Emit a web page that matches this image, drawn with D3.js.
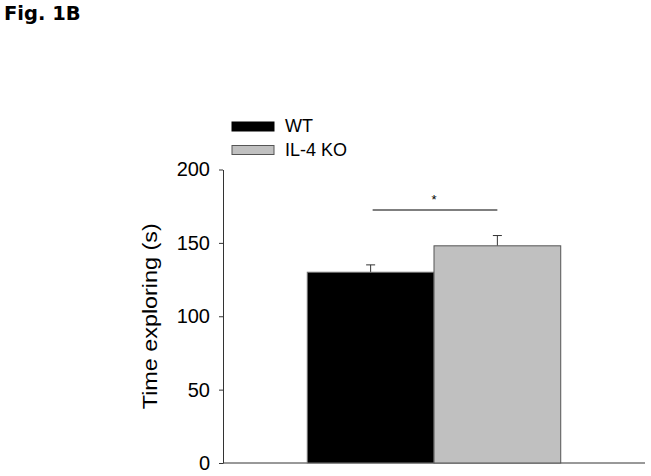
<!DOCTYPE html>
<html>
<head>
<meta charset="utf-8">
<script src="https://cdn.jsdelivr.net/npm/d3@7"></script>
<style>
  body { margin: 0; background: #fff; }
  svg { display: block; }
</style>
</head>
<body>
<div id="chart"></div>
<script>
const width = 651;
const height = 476;

const groups = ["WT", "IL-4 KO"];
const means = [130, 148];
const errors = [5, 7];
const fills = ["#000000", "#c0c0c0"];
const yTicks = [0, 50, 100, 150, 200];

let svg = d3.select("#chart").append("svg")
    .attr("width", width)
    .attr("height", height);

// figure label
svg.append("text")
    .attr("x", 4)
    .attr("y", 20)
    .style("font-family", "Verdana, 'DejaVu Sans', sans-serif")
    .style("font-weight", "bold")
    .style("font-size", "19.5px")
    .text("Fig. 1B");

let xScale = d3.scaleBand()
    .domain(groups)
    .range([223, 645])
    .paddingInner(0)
    .paddingOuter(0.665);

let yScale = d3.scaleLinear()
    .domain([0, 200])
    .range([463, 169.5]);

// y axis
let yAxis = svg.append("g")
    .attr("transform", "translate(223,0)")
    .call(d3.axisLeft(yScale).tickValues(yTicks).tickSize(4).tickPadding(9).tickSizeOuter(0));
yAxis.select(".domain").attr("stroke", "#333");
yAxis.selectAll(".tick line").attr("stroke", "#333");
yAxis.selectAll(".tick text")
    .style("font-family", "'Liberation Sans', Arial, sans-serif")
    .style("font-size", "20px")
    .attr("fill", "#000");

// x axis line
svg.append("line")
    .attr("x1", 223).attr("x2", 645)
    .attr("y1", yScale(0)).attr("y2", yScale(0))
    .attr("stroke", "#333")
    .attr("stroke-width", 1);

// y label
svg.append("text")
    .attr("transform", `translate(157, ${yScale(100)}) rotate(-90)`)
    .attr("text-anchor", "middle")
    .attr("textLength", 186)
    .attr("lengthAdjust", "spacingAndGlyphs")
    .style("font-family", "'Liberation Sans', Arial, sans-serif")
    .style("font-size", "20px")
    .text("Time exploring (s)");

// error bars (upper only)
let err = svg.append("g");
groups.forEach((g, i) => {
    let cx = xScale(g) + xScale.bandwidth() / 2;
    err.append("line")
        .attr("x1", cx).attr("x2", cx)
        .attr("y1", yScale(means[i])).attr("y2", yScale(means[i] + errors[i]))
        .attr("stroke", "#333");
    err.append("line")
        .attr("x1", cx - 4.5).attr("x2", cx + 4.5)
        .attr("y1", yScale(means[i] + errors[i])).attr("y2", yScale(means[i] + errors[i]))
        .attr("stroke", "#333");
});

// bars
svg.append("g").selectAll("rect")
    .data(groups)
    .join("rect")
    .attr("x", d => xScale(d))
    .attr("y", (d, i) => yScale(means[i]))
    .attr("width", xScale.bandwidth())
    .attr("height", (d, i) => yScale(0) - yScale(means[i]))
    .attr("fill", (d, i) => fills[i])
    .attr("stroke", (d, i) => i === 0 ? "#777" : "#555")
    .attr("stroke-width", 1);

// significance bracket
let x1 = xScale("WT") + xScale.bandwidth() / 2;
let x2 = xScale("IL-4 KO") + xScale.bandwidth() / 2;
svg.append("line")
    .attr("x1", x1 + 2).attr("x2", x2)
    .attr("y1", 210).attr("y2", 210)
    .attr("stroke", "#555")
    .attr("stroke-width", 1.5);
svg.append("text")
    .attr("x", (x1 + x2) / 2)
    .attr("y", 204)
    .attr("text-anchor", "middle")
    .style("font-family", "'Liberation Sans', Arial, sans-serif")
    .style("font-size", "13px")
    .text("*");

// legend
let legend = svg.append("g");
groups.forEach((g, i) => {
    legend.append("rect")
        .attr("x", 232)
        .attr("y", 122 + i * 23.5)
        .attr("width", 42)
        .attr("height", 9)
        .attr("fill", fills[i])
        .attr("stroke", i === 0 ? "#000" : "#555");
    legend.append("text")
        .attr("x", 285)
        .attr("y", 132 + i * 23.5)
        .style("font-family", "'Liberation Sans', Arial, sans-serif")
        .style("font-size", "18px")
        .text(g);
});
</script>
</body>
</html>
